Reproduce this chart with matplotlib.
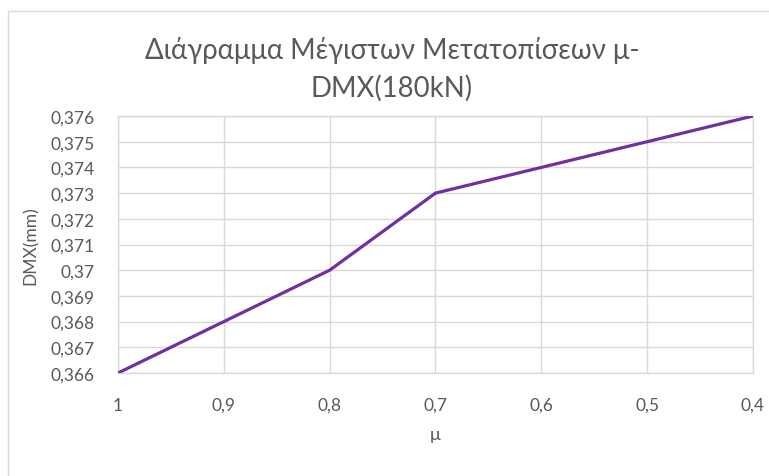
import matplotlib
matplotlib.use("Agg")
import matplotlib.pyplot as plt
from matplotlib.patches import Rectangle

# Friction coefficient categories and maximum displacement values
mu_labels = ["1", "0,9", "0,8", "0,7", "0,6", "0,5", "0,4"]
dmx_values = [0.366, 0.368, 0.370, 0.373, 0.374, 0.375, 0.376]
y_ticks = [0.366, 0.367, 0.368, 0.369, 0.370, 0.371, 0.372, 0.373, 0.374, 0.375, 0.376]
y_tick_labels = ["0,366", "0,367", "0,368", "0,369", "0,37", "0,371",
                 "0,372", "0,373", "0,374", "0,375", "0,376"]

plt.rcParams["font.family"] = ["Lato", "DejaVu Sans"]
text_color = "#595959"
grid_color = "#d9d9d9"
line_color = "#7030a0"

fig = plt.figure(figsize=(7.69, 4.77), dpi=100)
W, H = 769, 477

# Chart frame (outer border)
fig.patches.append(Rectangle((8 / W, -0.1), 1.2, 1 - 12 / H + 0.1,
                             transform=fig.transFigure, fill=False,
                             edgecolor=grid_color, linewidth=1.0))

ax = fig.add_axes([118 / W, 1 - 374 / H, 635 / W, 257 / H])
x = list(range(len(mu_labels)))
ax.plot(x, dmx_values, color=line_color, linewidth=2.3, solid_capstyle="round",
        zorder=3)

ax.set_xlim(0, len(mu_labels) - 1)
ax.set_ylim(y_ticks[0], y_ticks[-1])
ax.set_xticks(x)
ax.set_xticklabels(mu_labels)
ax.set_yticks(y_ticks)
ax.set_yticklabels(y_tick_labels)

ax.grid(True, color=grid_color, linewidth=1.0)
ax.set_axisbelow(True)
for s in ax.spines.values():
    s.set_color(grid_color)
    s.set_linewidth(1.0)
ax.tick_params(length=0, colors=text_color, labelsize=12.5)
ax.tick_params(axis="x", pad=17)
ax.tick_params(axis="y", pad=17)

ax.set_xlabel("μ", color=text_color, fontsize=13, labelpad=10)
ax.set_ylabel("DMX(mm)", color=text_color, fontsize=12.5, labelpad=8)

fig.text(392 / W, 1 - 50 / H, "Διάγραμμα Μέγιστων Μετατοπίσεων μ-",
         ha="center", va="center", fontsize=19.8, color=text_color)
fig.text(392 / W, 1 - 88 / H, "DMX(180kN)",
         ha="center", va="center", fontsize=19.8, color=text_color)

fig.savefig("out.png", dpi=100, facecolor="white")
